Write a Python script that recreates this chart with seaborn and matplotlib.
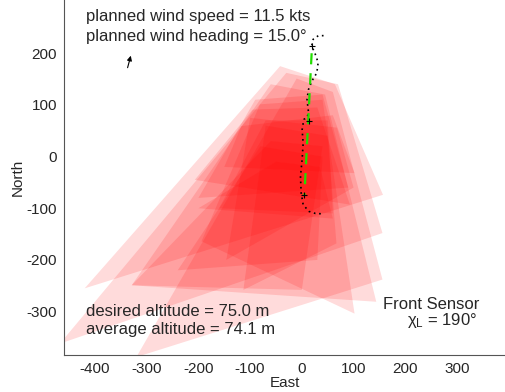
import numpy as np
import pandas as pd
import matplotlib
matplotlib.use("Agg")
import matplotlib.pyplot as plt
import seaborn as sns

# Flight path (East, North) in metres
path_east = [42, 32, 22, 19, 25, 31.6, 29, 19.3, 13, 10, 13, 10, 3.9, 0.6, 2.6, 0.6, -2.6, -1.3, 2.6, 13.5, 26, 42]
path_north = [234, 234, 227, 214, 201, 182, 162, 146, 130, 111, 85, 75, 72, 52, 26, -6, -38, -70, -93, -106, -110, -111]

# Desired straight track
track_east = [19, 12, 5]
track_north = [200, 62, -75]

# Waypoint markers along the track
mark_east = [19, 14, 4]
mark_north = [214, 69, -74]

# Sensor footprints: near-left, near-right, far-right, far-left corners
fp_east = [
    [-42, 64, 157, -420],
    [-30, 70, 156, -468],
    [-10, 60, 156, -320],
    [-60, 45, 144, -329],
    [-81, 40, 102, -194],
    [-95, 30, 93, -207],
    [-117, 60, 102, -150],
    [-100, 68, 100, -146],
    [-70, 50, 67, -113],
    [-60, 40, 0, -329],
    [-80, 40, 30, -240],
    [-50, 35, 60, -200],
    [-90, 40, 90, -200],
    [-70, 50, 60, -160],
]
fp_north = [
    [175, 140, -74, -255],
    [162, 140, -148, -362],
    [151, 125, -238, -388],
    [140, 120, -281, -249],
    [101, 110, -304, -164],
    [91, 95, -93, -45],
    [59, 80, -32, -20],
    [75, 56, -60, -200],
    [60, 40, -168, -258],
    [30, 20, -258, -249],
    [20, 0, -200, -220],
    [-10, -20, -120, -100],
    [110, 120, -60, -80],
    [70, 70, -110, -100],
]

wind_speed = 11.5
wind_heading = 15.0
desired_alt = 75.0
average_alt = 74.1
chi_l = 190

x_ticks = [-400, -300, -200, -100, 0, 100, 200, 300]
y_ticks = [-300, -200, -100, 0, 100, 200]

sns.set_style("white")
plt.rcParams['font.family'] = ['Liberation Sans', 'DejaVu Sans']
plt.rcParams['axes.unicode_minus'] = False

fig = plt.figure(figsize=(5.05, 3.92), dpi=100)
ax = fig.add_axes([64 / 505, 37 / 392, 441 / 505, 355 / 392])

for ex, ny in zip(fp_east, fp_north):
    ax.fill(ex, ny, color=(1.0, 0.0, 0.0), alpha=0.14, lw=0)

path_df = pd.DataFrame({"East": path_east, "North": path_north})
sns.lineplot(data=path_df, x="East", y="North", sort=False, estimator=None, ax=ax,
             color="black", linestyle=(0, (1, 2.2)), linewidth=1.2)
track_df = pd.DataFrame({"East": track_east, "North": track_north})
sns.lineplot(data=track_df, x="East", y="North", sort=False, estimator=None, ax=ax,
             color="#22dd00", linestyle=(0, (5, 4)), linewidth=1.6)
ax.plot(mark_east, mark_north, "+", color="black", ms=5, mew=0.8)

# Wind direction arrow
L = 24
x0, y0 = -337, 172
ax.annotate("", xy=(x0 + L * np.sin(np.radians(wind_heading)), y0 + L * np.cos(np.radians(wind_heading))),
            xytext=(x0, y0),
            arrowprops=dict(arrowstyle="-|>", color="black", lw=0.8, mutation_scale=7,
                            shrinkA=0, shrinkB=0))

fs = 12
ax.text(-418, 272, f"planned wind speed = {wind_speed:.1f} kts", fontsize=fs, va="center")
ax.text(-418, 233, f"planned wind heading = {wind_heading:.1f}°", fontsize=fs, va="center")
ax.text(-418, -299, f"desired altitude = {desired_alt:.1f} m", fontsize=fs, va="center")
ax.text(-418, -334, f"average altitude = {average_alt:.1f} m", fontsize=fs, va="center")
ax.text(344, -287, "Front Sensor", fontsize=fs, va="center", ha="right")
ax.text(340, -318, r"$\mathregular{\chi_L}$" + f" = {chi_l}°", fontsize=fs, va="center", ha="right")

ax.set_xlim(-460, 393)
ax.set_ylim(-384, 303)
ax.set_xticks(x_ticks)
ax.set_yticks(y_ticks)
ax.set_xlabel("East", fontsize=11, labelpad=0)
ax.set_ylabel("North", fontsize=11, labelpad=1)
ax.tick_params(direction="in", length=3, width=0.8, color="#555555", labelsize=11, pad=5)
for s in ["top", "right"]:
    ax.spines[s].set_visible(False)
for s in ["left", "bottom"]:
    ax.spines[s].set_color("#555555")
    ax.spines[s].set_linewidth(0.8)

fig.savefig("out.png", dpi=100)
